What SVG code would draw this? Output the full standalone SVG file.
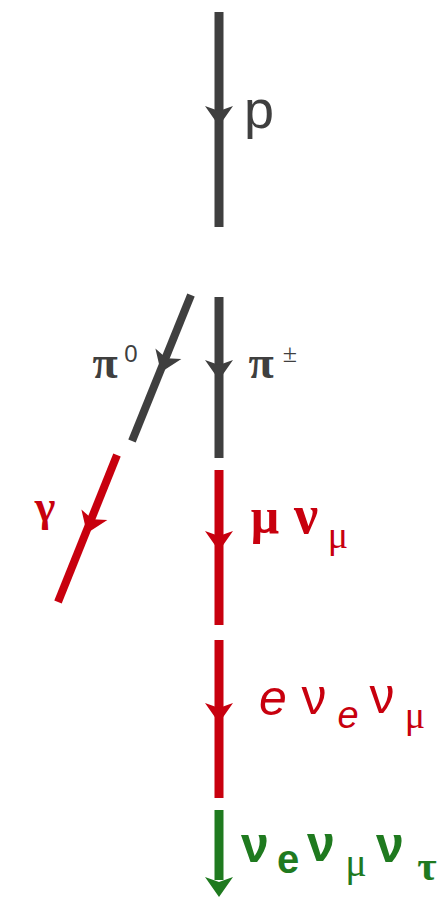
<svg xmlns="http://www.w3.org/2000/svg" width="446" height="898" viewBox="0 0 446 898">
<defs>
<style>
.g{stroke:#3f3f3f;stroke-width:9;fill:none}
.r{stroke:#c8000e;stroke-width:9;fill:none}
.gr{stroke:#1f7a1f;stroke-width:9;fill:none}
.lg{fill:#3f3f3f}
.lr{fill:#c8000e}
.lgr{fill:#1f7a1f}
.serif{font-family:"Liberation Serif","DejaVu Serif",serif;text-anchor:middle}
.sans{font-family:"Liberation Sans","DejaVu Sans",sans-serif;text-anchor:middle}
</style>
<path id="ah" d="M-14,-9 L0,-4 L14,-9 L0,11 Z"/>
</defs>
<g id="connectors">
<line class="g" x1="219" y1="12" x2="219" y2="227"/>
<use href="#ah" class="lg" transform="translate(219,115)"/>
<line class="g" x1="219" y1="297" x2="219" y2="458"/>
<use href="#ah" class="lg" transform="translate(219,369)"/>
<line class="g" x1="191" y1="295" x2="132" y2="441" style="stroke-width:8"/>
<use href="#ah" class="lg" transform="translate(165,362) rotate(22)"/>
<line class="r" x1="117" y1="455" x2="58" y2="602" style="stroke-width:8"/>
<use href="#ah" class="lr" transform="translate(91,523) rotate(22)"/>
<line class="r" x1="219" y1="470" x2="219" y2="625"/>
<use href="#ah" class="lr" transform="translate(219,540)"/>
<line class="r" x1="219" y1="640" x2="219" y2="798"/>
<use href="#ah" class="lr" transform="translate(219,712)"/>
<line class="gr" x1="219" y1="810" x2="219" y2="880"/>
<use href="#ah" class="lgr" transform="translate(219,886)"/>
</g>
<g id="p"><text class="sans lg" x="259" y="128" font-size="54">p</text></g>
<g id="pi0" class="lg"><text class="serif" x="105" y="378" font-size="46" font-weight="bold">π</text><text class="sans" x="131" y="362" font-size="24">0</text></g>
<g id="pipm" class="lg"><text class="serif" x="261" y="378" font-size="46" font-weight="bold">π</text><text class="serif" x="290" y="362" font-size="26">±</text></g>
<g id="gamma"><text class="serif lr" x="45" y="521" font-size="44" font-weight="bold">γ</text></g>
<g id="mu" class="lr" font-weight="bold">
<text class="serif" x="265" y="533" font-size="50">μ</text>
<text class="serif" x="306" y="533" font-size="54">ν</text>
<text class="serif" x="338" y="548" font-size="38" font-weight="normal">μ</text>
</g>
<g id="e" class="lr">
<text class="sans" x="273" y="715" font-size="50" font-style="italic">e</text>
<text class="sans" x="314" y="714" font-size="50">ν</text>
<text class="sans" x="348" y="728" font-size="38" font-style="italic">e</text>
<text class="sans" x="382" y="713" font-size="50">ν</text>
<text class="serif" x="415" y="728" font-size="38">μ</text>
</g>
<g id="nu" class="lgr" font-weight="bold">
<text class="sans" x="255" y="862" font-size="50">ν</text>
<text class="sans" x="288" y="873" font-size="40">e</text>
<text class="sans" x="321" y="861" font-size="50">ν</text>
<text class="serif" x="356" y="876" font-size="40" font-weight="normal">μ</text>
<text class="sans" x="390" y="862" font-size="50">ν</text>
<text class="serif" x="427" y="880" font-size="42">τ</text>
</g>
</svg>
